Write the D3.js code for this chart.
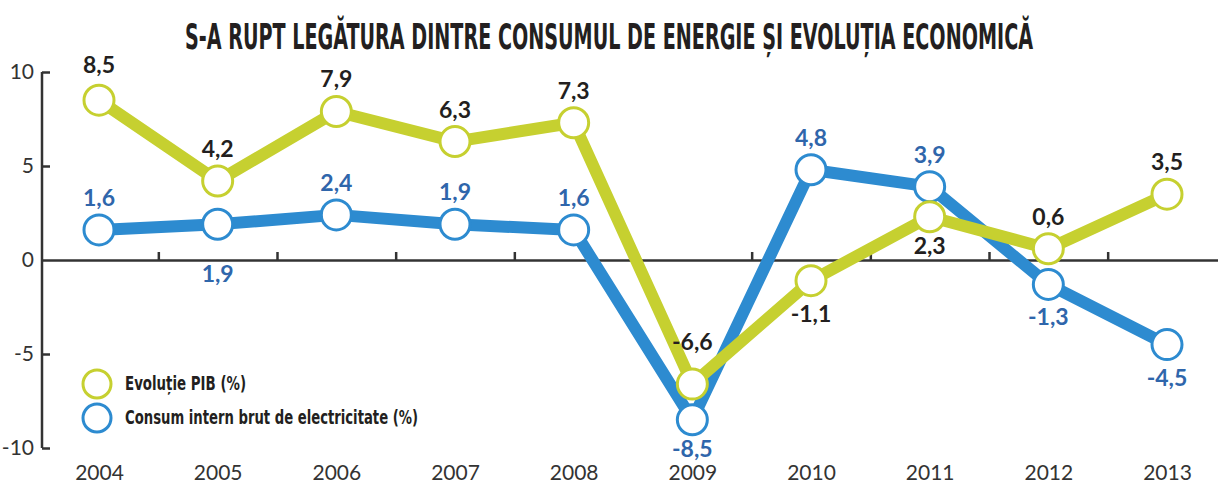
<!DOCTYPE html>
<html>
<head>
<meta charset="utf-8">
<script src="https://cdn.jsdelivr.net/npm/d3@7"></script>
<style>
  body { margin: 0; background: #fff; }
  svg { display: block; }
  .tick-label { font-family: Lato, "Open Sans", sans-serif; font-size: 21px; fill: #333; }
  .val { font-family: Lato, "Open Sans", sans-serif; font-size: 23px; font-weight: 700; }
  .cond { font-family: "Liberation Sans Narrow", "DejaVu Sans Condensed", "Roboto Condensed", sans-serif; font-weight: 700; fill: #231f20; }
</style>
</head>
<body>
<svg width="1218" height="484"></svg>
<script>
// data
const years = ['2004', '2005', '2006', '2007', '2008', '2009', '2010', '2011', '2012', '2013'];
const pib = [8.5, 4.2, 7.9, 6.3, 7.3, -6.6, -1.1, 2.3, 0.6, 3.5];
const consum = [1.6, 1.9, 2.4, 1.9, 1.6, -8.5, 4.8, 3.9, -1.3, -4.5];
const yTicks = [10, 5, 0, -5, -10];
// which side of the marker the value label sits on (1 = below, -1 = above)
const pibSide = [-1, -1, -1, -1, -1, -1, 1, 1, -1, -1];
const consumSide = [-1, 1, -1, -1, -1, 1, -1, -1, 1, 1];

const svg = d3.select('svg');
const width = +svg.attr('width');

const green = '#c6d030';
const blue = '#2d8bd0';
const blueText = '#2f66ab';

//scales
const x = d3.scalePoint().domain(years).range([99, 1167]);
const y = d3.scaleLinear().domain([-10, 10]).range([448, 72]);

//title
svg.append('text')
  .attr('class', 'cond')
  .attr('x', 609)
  .attr('y', 49)
  .attr('text-anchor', 'middle')
  .attr('font-size', 35)
  .attr('textLength', 848)
  .attr('lengthAdjust', 'spacingAndGlyphs')
  .text('S-A RUPT LEGĂTURA DINTRE CONSUMUL DE ENERGIE ȘI EVOLUȚIA ECONOMICĂ');

//y axis (ticks to the right, labels left)
const axisX = 42;
const yAxis = svg.append('g').attr('transform', `translate(${axisX},0)`)
  .call(d3.axisRight(y).tickValues(yTicks.filter(d => d !== 0)).tickSize(8).tickFormat(''));
yAxis.select('.domain').attr('stroke', '#333').attr('stroke-width', 2.5).attr('d', `M0,${y(10)}V${y(-10)}`);
yAxis.selectAll('.tick line').attr('stroke', '#333').attr('stroke-width', 2.5);

svg.selectAll('.ylab')
  .data(yTicks)
  .enter().append('text')
    .attr('class', 'tick-label')
    .attr('x', 34)
    .attr('y', d => y(d) + 7)
    .attr('text-anchor', 'end')
    .text(d => d);

//zero line with small ticks between the years
const mids = years.slice(1).map((yr, i) => (x(years[i]) + x(yr)) / 2);
const zeroAxis = svg.append('g').attr('transform', `translate(0,${y(0)})`)
  .call(d3.axisTop(d3.scaleLinear().domain([axisX, width]).range([axisX, width]))
    .tickValues(mids).tickSize(8).tickSizeOuter(0).tickFormat(''));
zeroAxis.select('.domain').attr('stroke', '#333').attr('stroke-width', 2.5);
zeroAxis.selectAll('.tick line').attr('stroke', '#333').attr('stroke-width', 2.5);

//x labels
svg.append('g').attr('transform', 'translate(0,480)')
  .call(d3.axisBottom(x).tickSize(0).tickPadding(0))
  .call(g => g.select('.domain').remove())
  .selectAll('text')
    .attr('class', 'tick-label')
    .attr('font-size', 22)
    .attr('dy', 0)
    .attr('y', 0);

//lines
const line = d3.line().x((d, i) => x(years[i])).y(d => y(d));
svg.append('path').datum(consum)
  .attr('fill', 'none').attr('stroke', blue).attr('stroke-width', 12)
  .attr('stroke-linejoin', 'round').attr('d', line);
svg.append('path').datum(pib)
  .attr('fill', 'none').attr('stroke', green).attr('stroke-width', 12)
  .attr('stroke-linejoin', 'round').attr('d', line);

//markers
const drawMarkers = (vals, color) => {
  svg.append('g').selectAll('circle')
    .data(vals)
    .enter().append('circle')
      .attr('cx', (d, i) => x(years[i]))
      .attr('cy', d => y(d))
      .attr('r', 15)
      .attr('fill', '#fff')
      .attr('stroke', color)
      .attr('stroke-width', 3);
};
drawMarkers(consum, blue);
drawMarkers(pib, green);

//value labels
const fmt = d => String(d).replace('.', ',');
const drawLabels = (vals, sides, color, extra) => {
  svg.append('g').selectAll('text')
    .data(vals)
    .enter().append('text')
      .attr('class', 'val')
      .attr('fill', color)
      .attr('text-anchor', 'middle')
      .attr('x', (d, i) => x(years[i]))
      .attr('y', (d, i) => y(d) + (sides[i] < 0 ? -24 : 41) + (extra[i] || 0))
      .text(fmt);
};
drawLabels(pib, pibSide, '#231f20', {0: -3, 5: -10, 7: -4});
drawLabels(consum, consumSide, blueText, {1: 17, 5: -4});

//legend
const legend = [
  {name: 'Evoluție PIB (%)', color: green, len: 121},
  {name: 'Consum intern brut de electricitate (%)', color: blue, len: 293}
];
const lg = svg.append('g');
lg.selectAll('circle')
  .data(legend)
  .enter().append('circle')
    .attr('cx', 97)
    .attr('cy', (d, i) => 384 + i * 34)
    .attr('r', 14)
    .attr('fill', '#fff')
    .attr('stroke', d => d.color)
    .attr('stroke-width', 3);
lg.selectAll('text')
  .data(legend)
  .enter().append('text')
    .attr('class', 'cond')
    .attr('x', 125)
    .attr('y', (d, i) => 390 + i * 34)
    .attr('font-size', 19)
    .attr('textLength', d => d.len)
    .attr('lengthAdjust', 'spacingAndGlyphs')
    .text(d => d.name);
</script>
</body>
</html>
